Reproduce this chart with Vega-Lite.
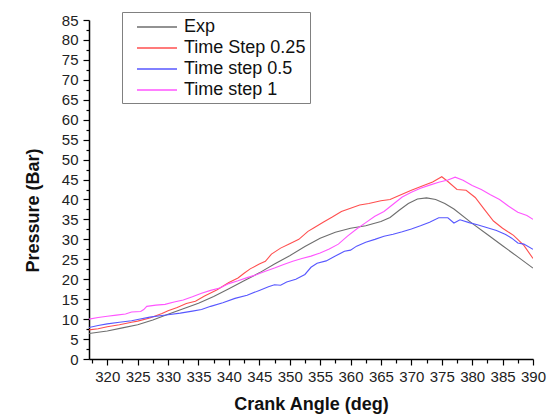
{
  "$schema": "https://vega.github.io/schema/vega-lite/v6.json",
  "width": 444,
  "height": 339,
  "autosize": "none",
  "padding": {"left": 89, "top": 20, "right": 22, "bottom": 55},
  "background": "white",
  "config": {
    "view": {"stroke": null},
    "font": "Liberation Sans",
    "axis": {
      "domainColor": "#000000",
      "domainWidth": 1.5,
      "tickColor": "#000000",
      "tickWidth": 1.2,
      "labelFont": "Liberation Sans",
      "labelFontSize": 15,
      "labelColor": "#222222",
      "titleFont": "Liberation Sans",
      "titleFontSize": 18,
      "titleFontWeight": "bold",
      "titleColor": "#111111",
      "grid": false
    }
  },
  "datasets": {
    "pts": [
      {"series": "Exp", "angle": 317, "pressure": 6.4},
      {"series": "Exp", "angle": 320, "pressure": 7.0},
      {"series": "Exp", "angle": 322.5, "pressure": 7.8},
      {"series": "Exp", "angle": 325, "pressure": 8.6},
      {"series": "Exp", "angle": 327.5, "pressure": 9.8},
      {"series": "Exp", "angle": 330, "pressure": 11.2},
      {"series": "Exp", "angle": 332.5, "pressure": 12.6},
      {"series": "Exp", "angle": 335, "pressure": 14.0},
      {"series": "Exp", "angle": 337.5, "pressure": 15.7},
      {"series": "Exp", "angle": 340, "pressure": 17.6},
      {"series": "Exp", "angle": 342.5, "pressure": 19.6},
      {"series": "Exp", "angle": 345, "pressure": 21.6},
      {"series": "Exp", "angle": 347.5, "pressure": 23.8},
      {"series": "Exp", "angle": 350, "pressure": 25.9},
      {"series": "Exp", "angle": 352.5, "pressure": 28.2},
      {"series": "Exp", "angle": 355, "pressure": 30.3},
      {"series": "Exp", "angle": 357.5, "pressure": 31.8},
      {"series": "Exp", "angle": 360, "pressure": 32.8},
      {"series": "Exp", "angle": 362.5, "pressure": 33.4},
      {"series": "Exp", "angle": 365, "pressure": 34.5},
      {"series": "Exp", "angle": 366.5, "pressure": 35.5},
      {"series": "Exp", "angle": 368, "pressure": 37.3},
      {"series": "Exp", "angle": 369.5, "pressure": 39.0},
      {"series": "Exp", "angle": 371, "pressure": 40.1},
      {"series": "Exp", "angle": 372.5, "pressure": 40.4},
      {"series": "Exp", "angle": 374, "pressure": 40.0},
      {"series": "Exp", "angle": 375.5, "pressure": 39.0},
      {"series": "Exp", "angle": 377, "pressure": 37.6},
      {"series": "Exp", "angle": 380, "pressure": 34.0},
      {"series": "Exp", "angle": 382.5, "pressure": 31.2},
      {"series": "Exp", "angle": 385, "pressure": 28.4},
      {"series": "Exp", "angle": 387.5, "pressure": 25.6},
      {"series": "Exp", "angle": 390, "pressure": 22.8},

      {"series": "Time Step 0.25", "angle": 317, "pressure": 7.3},
      {"series": "Time Step 0.25", "angle": 318.5, "pressure": 7.6},
      {"series": "Time Step 0.25", "angle": 320, "pressure": 8.1},
      {"series": "Time Step 0.25", "angle": 322, "pressure": 8.6},
      {"series": "Time Step 0.25", "angle": 324, "pressure": 9.2},
      {"series": "Time Step 0.25", "angle": 325, "pressure": 9.5},
      {"series": "Time Step 0.25", "angle": 327, "pressure": 10.3},
      {"series": "Time Step 0.25", "angle": 329, "pressure": 11.4},
      {"series": "Time Step 0.25", "angle": 330, "pressure": 12.1},
      {"series": "Time Step 0.25", "angle": 331.5, "pressure": 12.9},
      {"series": "Time Step 0.25", "angle": 333, "pressure": 13.9},
      {"series": "Time Step 0.25", "angle": 334.5, "pressure": 14.5},
      {"series": "Time Step 0.25", "angle": 336, "pressure": 15.8},
      {"series": "Time Step 0.25", "angle": 338, "pressure": 17.3},
      {"series": "Time Step 0.25", "angle": 340, "pressure": 19.2},
      {"series": "Time Step 0.25", "angle": 341.5, "pressure": 20.3},
      {"series": "Time Step 0.25", "angle": 342.5, "pressure": 21.5},
      {"series": "Time Step 0.25", "angle": 343.5, "pressure": 22.6},
      {"series": "Time Step 0.25", "angle": 345, "pressure": 23.8},
      {"series": "Time Step 0.25", "angle": 346, "pressure": 24.5},
      {"series": "Time Step 0.25", "angle": 347, "pressure": 26.3},
      {"series": "Time Step 0.25", "angle": 348.5, "pressure": 27.8},
      {"series": "Time Step 0.25", "angle": 350, "pressure": 28.9},
      {"series": "Time Step 0.25", "angle": 351.5, "pressure": 30.0},
      {"series": "Time Step 0.25", "angle": 353, "pressure": 32.0},
      {"series": "Time Step 0.25", "angle": 354, "pressure": 32.9},
      {"series": "Time Step 0.25", "angle": 355.5, "pressure": 34.3},
      {"series": "Time Step 0.25", "angle": 357, "pressure": 35.6},
      {"series": "Time Step 0.25", "angle": 358.5, "pressure": 37.0},
      {"series": "Time Step 0.25", "angle": 360, "pressure": 37.8},
      {"series": "Time Step 0.25", "angle": 361.5, "pressure": 38.6},
      {"series": "Time Step 0.25", "angle": 363, "pressure": 39.0},
      {"series": "Time Step 0.25", "angle": 365, "pressure": 39.7},
      {"series": "Time Step 0.25", "angle": 366.5, "pressure": 40.0},
      {"series": "Time Step 0.25", "angle": 368, "pressure": 41.0},
      {"series": "Time Step 0.25", "angle": 370, "pressure": 42.3},
      {"series": "Time Step 0.25", "angle": 372, "pressure": 43.5},
      {"series": "Time Step 0.25", "angle": 373.5, "pressure": 44.4},
      {"series": "Time Step 0.25", "angle": 375, "pressure": 45.7},
      {"series": "Time Step 0.25", "angle": 376, "pressure": 44.5},
      {"series": "Time Step 0.25", "angle": 377.5, "pressure": 42.5},
      {"series": "Time Step 0.25", "angle": 379, "pressure": 42.3},
      {"series": "Time Step 0.25", "angle": 380.5, "pressure": 40.5},
      {"series": "Time Step 0.25", "angle": 382, "pressure": 37.5},
      {"series": "Time Step 0.25", "angle": 383.5, "pressure": 34.6},
      {"series": "Time Step 0.25", "angle": 385, "pressure": 32.8},
      {"series": "Time Step 0.25", "angle": 386.8, "pressure": 31.0},
      {"series": "Time Step 0.25", "angle": 388.5, "pressure": 28.5},
      {"series": "Time Step 0.25", "angle": 390, "pressure": 25.2},

      {"series": "Time step 0.5", "angle": 317, "pressure": 7.9},
      {"series": "Time step 0.5", "angle": 318.5, "pressure": 8.4},
      {"series": "Time step 0.5", "angle": 320, "pressure": 8.8},
      {"series": "Time step 0.5", "angle": 322, "pressure": 9.2},
      {"series": "Time step 0.5", "angle": 324, "pressure": 9.6},
      {"series": "Time step 0.5", "angle": 325, "pressure": 9.9},
      {"series": "Time step 0.5", "angle": 327, "pressure": 10.5},
      {"series": "Time step 0.5", "angle": 329, "pressure": 10.9},
      {"series": "Time step 0.5", "angle": 330, "pressure": 11.1},
      {"series": "Time step 0.5", "angle": 332, "pressure": 11.5},
      {"series": "Time step 0.5", "angle": 334, "pressure": 12.0},
      {"series": "Time step 0.5", "angle": 335.5, "pressure": 12.4},
      {"series": "Time step 0.5", "angle": 337, "pressure": 13.2},
      {"series": "Time step 0.5", "angle": 339, "pressure": 14.1},
      {"series": "Time step 0.5", "angle": 341, "pressure": 15.2},
      {"series": "Time step 0.5", "angle": 343, "pressure": 16.0},
      {"series": "Time step 0.5", "angle": 345, "pressure": 17.2},
      {"series": "Time step 0.5", "angle": 346.5, "pressure": 18.1},
      {"series": "Time step 0.5", "angle": 347.5, "pressure": 18.6},
      {"series": "Time step 0.5", "angle": 348.5, "pressure": 18.5},
      {"series": "Time step 0.5", "angle": 349.5, "pressure": 19.3},
      {"series": "Time step 0.5", "angle": 351, "pressure": 20.0},
      {"series": "Time step 0.5", "angle": 352.5, "pressure": 21.2},
      {"series": "Time step 0.5", "angle": 353.5, "pressure": 23.0},
      {"series": "Time step 0.5", "angle": 354.5, "pressure": 24.0},
      {"series": "Time step 0.5", "angle": 356, "pressure": 24.6},
      {"series": "Time step 0.5", "angle": 357.5, "pressure": 25.8},
      {"series": "Time step 0.5", "angle": 359, "pressure": 27.0},
      {"series": "Time step 0.5", "angle": 360, "pressure": 27.3},
      {"series": "Time step 0.5", "angle": 361, "pressure": 28.3},
      {"series": "Time step 0.5", "angle": 362.5, "pressure": 29.3},
      {"series": "Time step 0.5", "angle": 364, "pressure": 30.0},
      {"series": "Time step 0.5", "angle": 365.5, "pressure": 30.8},
      {"series": "Time step 0.5", "angle": 367, "pressure": 31.3},
      {"series": "Time step 0.5", "angle": 368.5, "pressure": 31.9},
      {"series": "Time step 0.5", "angle": 370, "pressure": 32.6},
      {"series": "Time step 0.5", "angle": 371.5, "pressure": 33.4},
      {"series": "Time step 0.5", "angle": 373, "pressure": 34.3},
      {"series": "Time step 0.5", "angle": 374.5, "pressure": 35.4},
      {"series": "Time step 0.5", "angle": 376, "pressure": 35.4},
      {"series": "Time step 0.5", "angle": 377, "pressure": 34.1},
      {"series": "Time step 0.5", "angle": 378, "pressure": 34.9},
      {"series": "Time step 0.5", "angle": 379.5, "pressure": 34.2},
      {"series": "Time step 0.5", "angle": 381, "pressure": 33.6},
      {"series": "Time step 0.5", "angle": 382.5, "pressure": 32.9},
      {"series": "Time step 0.5", "angle": 384, "pressure": 32.2},
      {"series": "Time step 0.5", "angle": 385.5, "pressure": 31.2},
      {"series": "Time step 0.5", "angle": 386.5, "pressure": 30.3},
      {"series": "Time step 0.5", "angle": 387.5, "pressure": 29.1},
      {"series": "Time step 0.5", "angle": 388.5, "pressure": 28.8},
      {"series": "Time step 0.5", "angle": 390, "pressure": 27.5},

      {"series": "Time step 1", "angle": 317, "pressure": 10.0},
      {"series": "Time step 1", "angle": 318.5, "pressure": 10.4},
      {"series": "Time step 1", "angle": 320, "pressure": 10.7},
      {"series": "Time step 1", "angle": 321.5, "pressure": 11.0},
      {"series": "Time step 1", "angle": 323, "pressure": 11.3},
      {"series": "Time step 1", "angle": 324, "pressure": 11.8},
      {"series": "Time step 1", "angle": 325.5, "pressure": 11.9},
      {"series": "Time step 1", "angle": 326, "pressure": 12.4},
      {"series": "Time step 1", "angle": 326.5, "pressure": 13.2},
      {"series": "Time step 1", "angle": 328, "pressure": 13.5},
      {"series": "Time step 1", "angle": 329.5, "pressure": 13.7},
      {"series": "Time step 1", "angle": 331, "pressure": 14.3},
      {"series": "Time step 1", "angle": 332.5, "pressure": 14.8},
      {"series": "Time step 1", "angle": 334, "pressure": 15.6},
      {"series": "Time step 1", "angle": 335.5, "pressure": 16.5},
      {"series": "Time step 1", "angle": 337, "pressure": 17.2},
      {"series": "Time step 1", "angle": 338.5, "pressure": 17.8},
      {"series": "Time step 1", "angle": 340, "pressure": 18.9},
      {"series": "Time step 1", "angle": 341.5, "pressure": 19.6},
      {"series": "Time step 1", "angle": 343, "pressure": 20.4},
      {"series": "Time step 1", "angle": 344.5, "pressure": 21.1},
      {"series": "Time step 1", "angle": 346, "pressure": 22.0},
      {"series": "Time step 1", "angle": 347.5, "pressure": 22.8},
      {"series": "Time step 1", "angle": 349, "pressure": 23.7},
      {"series": "Time step 1", "angle": 350.5, "pressure": 24.5},
      {"series": "Time step 1", "angle": 352, "pressure": 25.2},
      {"series": "Time step 1", "angle": 353.5, "pressure": 25.8},
      {"series": "Time step 1", "angle": 355, "pressure": 26.6},
      {"series": "Time step 1", "angle": 356.5, "pressure": 27.6},
      {"series": "Time step 1", "angle": 358, "pressure": 28.8},
      {"series": "Time step 1", "angle": 359.5, "pressure": 30.8},
      {"series": "Time step 1", "angle": 361, "pressure": 32.6},
      {"series": "Time step 1", "angle": 362.5, "pressure": 34.2},
      {"series": "Time step 1", "angle": 364, "pressure": 35.8},
      {"series": "Time step 1", "angle": 365.5, "pressure": 37.0},
      {"series": "Time step 1", "angle": 367, "pressure": 38.8},
      {"series": "Time step 1", "angle": 368.5, "pressure": 40.6},
      {"series": "Time step 1", "angle": 370, "pressure": 41.8},
      {"series": "Time step 1", "angle": 371.5, "pressure": 42.8},
      {"series": "Time step 1", "angle": 373, "pressure": 43.6},
      {"series": "Time step 1", "angle": 374.5, "pressure": 44.3},
      {"series": "Time step 1", "angle": 376, "pressure": 44.9},
      {"series": "Time step 1", "angle": 377.2, "pressure": 45.6},
      {"series": "Time step 1", "angle": 378.5, "pressure": 44.8},
      {"series": "Time step 1", "angle": 380, "pressure": 43.5},
      {"series": "Time step 1", "angle": 381.5, "pressure": 42.5},
      {"series": "Time step 1", "angle": 383, "pressure": 41.2},
      {"series": "Time step 1", "angle": 384.5, "pressure": 40.0},
      {"series": "Time step 1", "angle": 386, "pressure": 38.3},
      {"series": "Time step 1", "angle": 387.5, "pressure": 36.8},
      {"series": "Time step 1", "angle": 389, "pressure": 36.0},
      {"series": "Time step 1", "angle": 390, "pressure": 35.0}
    ]
  },
  "data": {"name": "pts"},
  "mark": {"type": "line", "strokeWidth": 1.1, "clip": true},
  "encoding": {
    "x": {
      "field": "angle",
      "type": "quantitative",
      "scale": {"domain": [317, 390], "nice": false, "zero": false},
      "axis": {
        "title": "Crank Angle (deg)",
        "values": [317.5, 320, 322.5, 325, 327.5, 330, 332.5, 335, 337.5, 340, 342.5, 345, 347.5, 350, 352.5, 355, 357.5, 360, 362.5, 365, 367.5, 370, 372.5, 375, 377.5, 380, 382.5, 385, 387.5, 390],
        "labelExpr": "datum.value % 5 === 0 ? datum.label : ''",
        "tickSize": {"condition": {"test": "datum.value % 5 !== 0", "value": 4}, "value": 6},
        "labelPadding": 4,
        "labelFlush": false,
        "labelOverlap": false,
        "titleBaseline": "alphabetic",
        "titleY": 50
      }
    },
    "y": {
      "field": "pressure",
      "type": "quantitative",
      "scale": {"domain": [0, 85], "nice": false, "zero": true},
      "axis": {
        "title": "Pressure (Bar)",
        "values": [0, 2.5, 5, 7.5, 10, 12.5, 15, 17.5, 20, 22.5, 25, 27.5, 30, 32.5, 35, 37.5, 40, 42.5, 45, 47.5, 50, 52.5, 55, 57.5, 60, 62.5, 65, 67.5, 70, 72.5, 75, 77.5, 80, 82.5, 85],
        "labelExpr": "datum.value % 5 === 0 ? datum.label : ''",
        "tickSize": {"condition": {"test": "datum.value % 5 !== 0", "value": 3}, "value": 6},
        "labelPadding": 5,
        "labelFlush": false,
        "labelOverlap": false,
        "titleBaseline": "alphabetic",
        "titleAngle": -90,
        "titleAlign": "center",
        "titleX": -51,
        "titleY": 190
      }
    },
    "color": {
      "field": "series",
      "type": "nominal",
      "scale": {
        "domain": ["Exp", "Time Step 0.25", "Time step 0.5", "Time step 1"],
        "range": ["#6e6e6e", "#ff4f4f", "#5757ff", "#ff55ff"]
      },
      "legend": {
        "title": null,
        "orient": "none",
        "legendX": 33,
        "legendY": -8,
        "direction": "vertical",
        "strokeColor": "#808080",
        "fillColor": "white",
        "padding": 4,
        "symbolType": "M-2,0H2",
        "symbolSize": 400,
        "symbolStrokeWidth": 1.6,
        "symbolOffset": 20,
        "labelOffset": 16,
        "labelFont": "Liberation Sans",
        "labelFontSize": 18,
        "labelColor": "#111111",
        "labelLimit": 300,
        "rowPadding": 1
      }
    }
  }
}
